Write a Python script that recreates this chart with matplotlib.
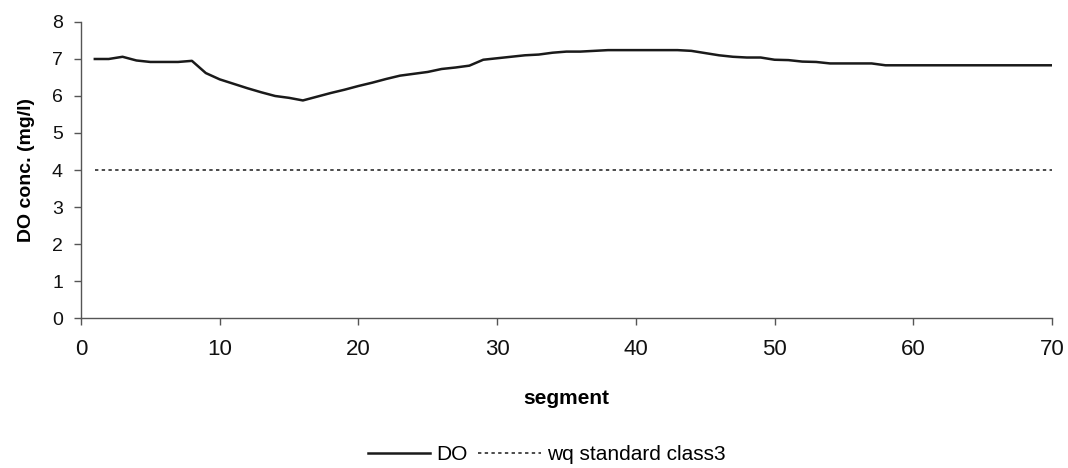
import matplotlib
matplotlib.use("Agg")
import matplotlib.pyplot as plt
from matplotlib import font_manager

# Dissolved oxygen along the river, one value per model segment
segments = list(range(1, 71))
do_conc = [
    7.00, 7.00, 7.06, 6.96, 6.92, 6.92, 6.92, 6.95, 6.62, 6.45,
    6.33, 6.21, 6.10, 6.00, 5.95, 5.88, 5.98, 6.08, 6.17, 6.27,
    6.36, 6.46, 6.55, 6.60, 6.65, 6.73, 6.77, 6.82, 6.98, 7.02,
    7.06, 7.10, 7.12, 7.17, 7.20, 7.20, 7.22, 7.24, 7.24, 7.24,
    7.24, 7.24, 7.24, 7.22, 7.16, 7.10, 7.06, 7.04, 7.04, 6.98,
    6.97, 6.93, 6.92, 6.88, 6.88, 6.88, 6.88, 6.83, 6.83, 6.83,
    6.83, 6.83, 6.83, 6.83, 6.83, 6.83, 6.83, 6.83, 6.83, 6.83,
]
# Water quality standard, class 3
wq_standard = [4.0] * len(segments)

x_ticks = [0, 10, 20, 30, 40, 50, 60, 70]
y_ticks = [0, 1, 2, 3, 4, 5, 6, 7, 8]

installed = {f.name for f in font_manager.fontManager.ttflist}
narrow = "Liberation Sans Narrow" if "Liberation Sans Narrow" in installed else "Liberation Sans"

plt.rcParams["font.family"] = ["Liberation Sans", "DejaVu Sans"]

fig = plt.figure(figsize=(10.68, 4.68), dpi=100)
ax = fig.add_axes([0.0758, 0.3205, 0.9092, 0.6325])

ax.plot(segments, do_conc, color="#1a1a1a", linewidth=1.8, label="DO")
ax.plot(segments, wq_standard, color="#1a1a1a", linewidth=1.1,
        linestyle=(0, (2.2, 2.2)), label="wq standard class3")

ax.set_xlim(0, 70)
ax.set_ylim(0, 8)
ax.set_xticks(x_ticks)
ax.set_yticks(y_ticks)
ax.set_xticklabels([str(t) for t in x_ticks], fontsize=16, family=narrow)
ax.set_yticklabels([str(t) for t in y_ticks], fontsize=14)

for side in ("top", "right"):
    ax.spines[side].set_visible(False)
for side in ("left", "bottom"):
    ax.spines[side].set_color("#555555")
    ax.spines[side].set_linewidth(1.0)
ax.tick_params(axis="both", direction="out", length=5, width=1.0,
               color="#555555", labelcolor="#111111")
ax.tick_params(axis="x", pad=10)
ax.tick_params(axis="y", pad=8)

ax.set_xlabel("segment", fontsize=15, fontweight="bold", labelpad=21)
ax.set_ylabel("DO conc. (mg/l)", fontsize=14, fontweight="bold", labelpad=12)

fig.legend(loc="center", bbox_to_anchor=(0.512, 0.028), ncol=2, frameon=False,
           fontsize=15, handlelength=3.0, handletextpad=0.3, columnspacing=0.5)

fig.savefig("out.png", dpi=100, facecolor="white")
